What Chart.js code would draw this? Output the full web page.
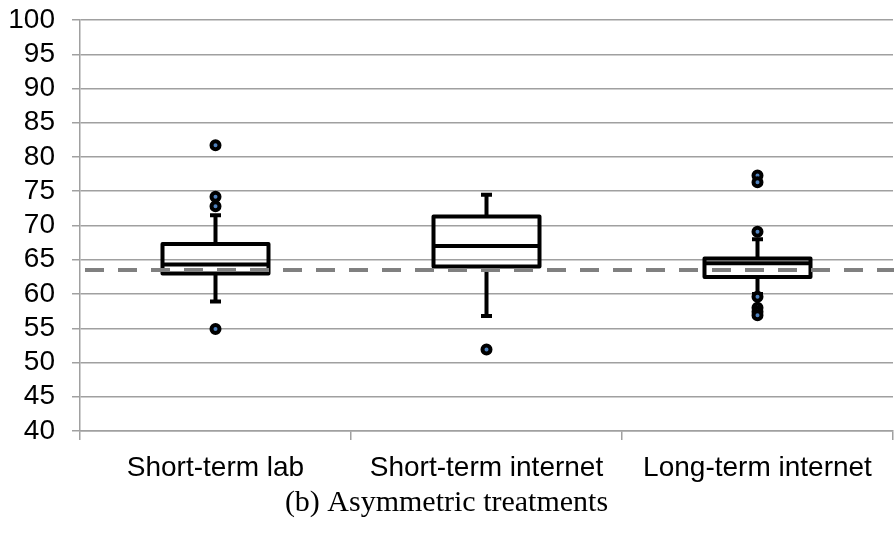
<!DOCTYPE html>
<html><head><meta charset="utf-8">
<script src="https://cdn.jsdelivr.net/npm/chart.js@4.4.1/dist/chart.umd.min.js"></script>
<style>html,body{margin:0;padding:0;background:#fff}#wrap{width:894px;height:533px}</style>
</head><body><div id="wrap"><canvas id="c" width="894" height="533"></canvas></div>
<script>
// ---- data ----
const categories = ['Short-term lab', 'Short-term internet', 'Long-term internet'];
const q1 = [63.0, 64.0, 62.5];
const median = [64.3, 67.0, 64.5];
const q3 = [67.3, 71.3, 65.2];
const whiskerLow = [58.9, 56.8, 60.0];
const whiskerHigh = [71.5, 74.5, 68.0];
const outliersShortLab = [81.7, 74.2, 72.8, 54.9];
const outliersShortInternet = [51.9];
const outliersLongInternet = [77.3, 76.3, 69.1, 59.6, 58.0, 57.4, 56.9];
const benchmark = 63.5;
const yMin = 40, yMax = 100, yStep = 5;
const caption = '(b) Asymmetric treatments';

const outlierLists = [outliersShortLab, outliersShortInternet, outliersLongInternet];
const outlierPoints = [];
outlierLists.forEach((list, i) => list.forEach(v => outlierPoints.push({x: categories[i], y: v})));

const GRID = '#a0a0a0';

const boxExtras = {
  id: 'boxExtras',
  beforeDatasetsDraw(chart) {
    const {ctx, scales: {x, y}} = chart;
    ctx.save();
    ctx.strokeStyle = '#000';
    ctx.lineWidth = 4;
    categories.forEach((c, i) => {
      const cx = x.getPixelForValue(i);
      const yq3 = y.getPixelForValue(q3[i]), yq1 = y.getPixelForValue(q1[i]);
      const yh = y.getPixelForValue(whiskerHigh[i]), yl = y.getPixelForValue(whiskerLow[i]);
      ctx.beginPath();
      ctx.moveTo(cx, yq3); ctx.lineTo(cx, yh);
      ctx.moveTo(cx, yq1); ctx.lineTo(cx, yl);
      ctx.stroke();
      ctx.beginPath();
      ctx.moveTo(cx - 5.5, yh); ctx.lineTo(cx + 5.5, yh);
      ctx.moveTo(cx - 5.5, yl); ctx.lineTo(cx + 5.5, yl);
      ctx.stroke();
    });
    ctx.restore();
  },
  afterDatasetsDraw(chart) {
    const {ctx, chartArea, scales: {y}} = chart;
    const meta = chart.getDatasetMeta(0);
    ctx.save();
    ctx.strokeStyle = '#000';
    ctx.lineWidth = 4;
    ctx.lineJoin = 'round';
    meta.data.forEach((el, i) => {
      const left = el.x - el.width / 2;
      const top = Math.min(el.y, el.base), bottom = Math.max(el.y, el.base);
      ctx.strokeRect(left, top, el.width, bottom - top);
      const ym = y.getPixelForValue(median[i]);
      ctx.beginPath();
      ctx.moveTo(left, ym);
      ctx.lineTo(left + el.width, ym);
      ctx.stroke();
    });
    const yb = y.getPixelForValue(benchmark);
    ctx.strokeStyle = '#808080';
    ctx.lineWidth = 4;
    ctx.setLineDash([19, 14]);
    ctx.lineDashOffset = 28;
    ctx.beginPath();
    ctx.moveTo(chartArea.left, yb);
    ctx.lineTo(chart.width, yb);
    ctx.stroke();
    ctx.restore();
  }
};

new Chart(document.getElementById('c'), {
  data: {
    labels: categories,
    datasets: [
      {
        type: 'bar',
        data: categories.map((c, i) => [q1[i], q3[i]]),
        backgroundColor: 'rgba(0,0,0,0)',
        borderColor: 'rgba(0,0,0,0)',
        borderWidth: 0,
        barThickness: 106,
        order: 2
      },
      {
        type: 'line',
        data: outlierPoints,
        showLine: false,
        pointRadius: 4,
        pointBorderWidth: 4,
        pointBorderColor: '#000',
        pointBackgroundColor: '#4f81bd',
        order: 1
      }
    ]
  },
  options: {
    responsive: false,
    devicePixelRatio: 1,
    animation: false,
    layout: {autoPadding: false, padding: {top: 20, right: 1, left: 0, bottom: 0}},
    plugins: {
      legend: {display: false},
      tooltip: {enabled: false},
      title: {
        display: true,
        position: 'bottom',
        text: caption,
        color: '#000',
        font: {family: 'Liberation Serif', size: 30, weight: 'normal'},
        padding: {top: 0, bottom: 12}
      }
    },
    scales: {
      x: {
        type: 'category',
        offset: true,
        grid: {offset: true, drawOnChartArea: false, drawTicks: true, tickLength: 9, color: GRID, lineWidth: 1.5},
        border: {display: true, color: GRID, width: 1.5},
        ticks: {font: {family: 'Liberation Sans', size: 28}, color: '#000', padding: 11, maxRotation: 0, autoSkip: false},
        afterFit(s) { s.height = 54; s.paddingLeft = 0; s.paddingRight = 0; }
      },
      y: {
        min: yMin, max: yMax,
        ticks: {stepSize: yStep, autoSkip: false, font: {family: 'Liberation Sans', size: 28}, color: '#000', padding: 17},
        grid: {color: GRID, lineWidth: 1.5, tickLength: 8, drawTicks: true},
        border: {display: true, color: GRID, width: 1.5},
        afterFit(s) { s.width = 80; s.paddingTop = 0; s.paddingBottom = 0; }
      }
    }
  },
  plugins: [boxExtras]
});
</script></body></html>
